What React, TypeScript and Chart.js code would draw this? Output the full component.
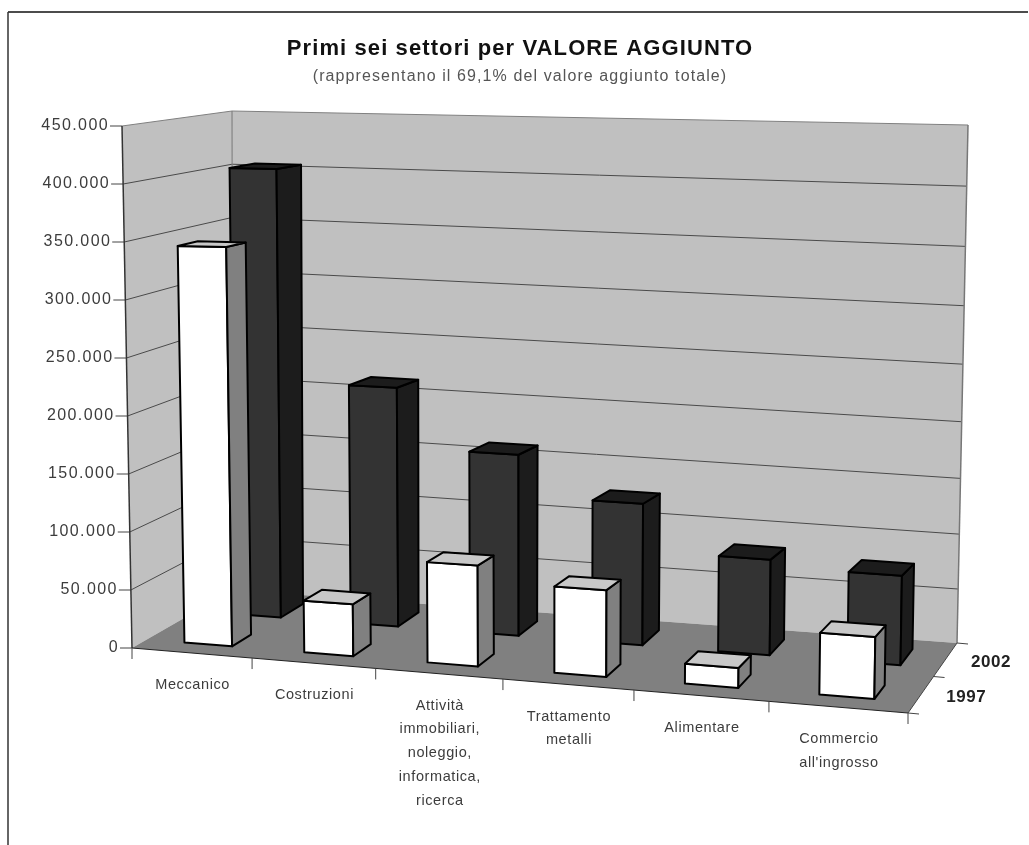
import React, { useEffect, useRef } from "react";
import { Chart, registerables } from "chart.js";

Chart.register(...registerables);

const titleText = "Primi sei settori per VALORE AGGIUNTO";
const subtitleText = "(rappresentano il 69,1% del valore aggiunto totale)";
const categories: (string | string[])[] = [
  "Meccanico",
  "Costruzioni",
  ["Attività", "immobiliari,", "noleggio,", "informatica,", "ricerca"],
  ["Trattamento", "metalli"],
  "Alimentare",
  ["Commercio", "all'ingrosso"],
];
const series1997 = [344000, 44000, 84000, 71000, 16000, 49000];
const series2002 = [404000, 213000, 160000, 124000, 83000, 77000];
const yMax = 450000;
const yStep = 50000;

type Pt = [number, number];
// projection of the plot box: floor & ceiling quads [front-left, front-right, back-right, back-left]
const FLOOR: Pt[] = [[132, 648], [908, 713], [957, 643], [233, 590]];
const CEIL: Pt[] = [[122, 126], [918, 123], [968, 125], [232, 111]];
const ROW_DEPTH: Record<string, [number, number]> = { "1997": [0.14, 0.33], "2002": [0.62, 0.86] };
const ROW_SHIFT: Record<string, number> = { "1997": 0.003, "2002": 0.006 };

function homography(q: Pt[]) {
  const [[x0, y0], [x1, y1], [x2, y2], [x3, y3]] = q;
  const dx1 = x1 - x2, dx2 = x3 - x2, sx = x0 - x1 + x2 - x3;
  const dy1 = y1 - y2, dy2 = y3 - y2, sy = y0 - y1 + y2 - y3;
  const den = dx1 * dy2 - dx2 * dy1;
  const g = (sx * dy2 - dx2 * sy) / den;
  const h = (dx1 * sy - sx * dy1) / den;
  const a = x1 - x0 + g * x1, b = x3 - x0 + h * x3;
  const d = y1 - y0 + g * y1, e = y3 - y0 + h * y3;
  return (u: number, v: number): Pt => {
    const w = g * u + h * v + 1;
    return [(a * u + b * v + x0) / w, (d * u + e * v + y0) / w];
  };
}
const rawFloor = homography(FLOOR);
const floorAt = (u: number, v: number): Pt => rawFloor(u + 0.03 * u * (1 - u), v);
const ceilAt = (u: number, v: number): Pt => {
  // the ceiling quad is almost edge-on, so reuse the floor's foreshortening across a bilinear patch
  const s = (floorAt(u, 0)[0] - FLOOR[0][0]) / (FLOOR[1][0] - FLOOR[0][0]);
  const [a, b, c, d] = CEIL;
  const fx = a[0] + (b[0] - a[0]) * s, fy = a[1] + (b[1] - a[1]) * s;
  const bx = d[0] + (c[0] - d[0]) * s, by = d[1] + (c[1] - d[1]) * s;
  return [fx + (bx - fx) * v, fy + (by - fy) * v];
};
const project = (u: number, v: number, h: number): Pt => {
  const f = floorAt(u, v), c = ceilAt(u, v);
  const t = h - 0.07 * h * (1 - h) * u * v;
  return [f[0] + (c[0] - f[0]) * t, f[1] + (c[1] - f[1]) * t];
};

function poly(ctx: CanvasRenderingContext2D, pts: Pt[], fill?: string, stroke?: string, lw = 1) {
  ctx.beginPath();
  pts.forEach((p, i) => (i ? ctx.lineTo(p[0], p[1]) : ctx.moveTo(p[0], p[1])));
  ctx.closePath();
  if (fill) { ctx.fillStyle = fill; ctx.fill(); }
  if (stroke) { ctx.strokeStyle = stroke; ctx.lineWidth = lw; ctx.stroke(); }
}
function seg(ctx: CanvasRenderingContext2D, a: Pt, b: Pt, color: string, lw = 1) {
  ctx.beginPath();
  ctx.moveTo(a[0], a[1]);
  ctx.lineTo(b[0], b[1]);
  ctx.strokeStyle = color;
  ctx.lineWidth = lw;
  ctx.stroke();
}

const TEXT = "#3c3c3c";
const FONT = '"Liberation Sans", Arial, sans-serif';

const box3d = {
  id: "box3d",
  beforeDraw(chart: any) {
    chart.ctx.letterSpacing = "1.1px";
  },
  beforeDatasetsDraw(chart: any) {
    const { ctx, scales: { x, y } } = chart;
    ctx.letterSpacing = "0px";
    ctx.save();
    ctx.lineJoin = "round";
    // page frame
    seg(ctx, [8, 12], [1028, 12], "#111", 1.5);
    seg(ctx, [8, 12], [8, 845], "#333", 1.5);
    // walls & floor
    poly(ctx, [project(0, 0, 0), project(0, 1, 0), project(0, 1, 1), project(0, 0, 1)], "#c0c0c0");
    poly(ctx, [project(0, 1, 0), project(1, 1, 0), project(1, 1, 1), project(0, 1, 1)], "#c0c0c0");
    poly(ctx, [project(0, 0, 0), project(1, 0, 0), project(1, 1, 0), project(0, 1, 0)], "#808080");
    // gridlines and value axis
    const hOf = (val: number) => (y.bottom - y.getPixelForValue(val)) / (y.bottom - y.top);
    y.ticks.forEach((t: any) => {
      const h = hOf(t.value);
      const a = project(0, 0, h), b = project(0, 1, h), c = project(1, 1, h);
      if (t.value > 0 && t.value < yMax) {
        seg(ctx, a, b, "#4a4a4a", 1);
        seg(ctx, b, c, "#4a4a4a", 1);
      } else if (t.value === yMax) {
        seg(ctx, a, b, "#808080", 1);
        seg(ctx, b, c, "#808080", 1);
      }
      seg(ctx, [a[0] - 12, a[1]], a, "#444", 1);
      ctx.fillStyle = TEXT;
      ctx.font = `16px ${FONT}`;
      ctx.letterSpacing = "1.4px";
      ctx.textAlign = "right";
      ctx.textBaseline = "middle";
      ctx.fillText(t.label, a[0] - 13, a[1]);
      ctx.letterSpacing = "0px";
    });
    // box edges
    seg(ctx, project(0, 1, 0), project(0, 1, 1), "#777", 1);
    seg(ctx, project(1, 1, 0), project(1, 1, 1), "#777", 1.5);
    seg(ctx, project(0, 0, 0), project(0, 0, 1), "#333", 1.5);
    seg(ctx, project(0, 0, 0), project(1, 0, 0), "#222", 1.2);
    seg(ctx, project(1, 0, 0), project(1, 1, 0), "#444", 1);
    // category ticks + labels
    const n = categories.length;
    for (let i = 0; i <= n; i++) {
      const p = project(i / n, 0, 0);
      seg(ctx, p, [p[0], p[1] + 11], "#444", 1);
    }
    categories.forEach((c, i) => {
      const u = (x.getPixelForValue(i) - x.left) / (x.right - x.left);
      const p = project(u, 0, 0);
      const lines = Array.isArray(c) ? c : [c];
      ctx.fillStyle = TEXT;
      ctx.font = `14.5px ${FONT}`;
      ctx.letterSpacing = "0.6px";
      ctx.textAlign = "center";
      ctx.textBaseline = "middle";
      lines.forEach((l, k) => ctx.fillText(l, p[0] + 1, p[1] + 32 + k * 23.7));
      ctx.letterSpacing = "0px";
    });
    // depth axis
    [0, 0.5, 1].forEach((v) => {
      const p = project(1, v, 0);
      seg(ctx, p, [p[0] + 11, p[1] + 1], "#444", 1);
    });
    chart.data.datasets.forEach((ds: any) => {
      const [v0, v1] = ROW_DEPTH[ds.label];
      const p = project(1, (v0 + v1) / 2, 0);
      ctx.fillStyle = "#222";
      ctx.font = `bold 17px ${FONT}`;
      ctx.letterSpacing = "0.6px";
      ctx.textAlign = "center";
      ctx.textBaseline = "middle";
      ctx.fillText(ds.label, p[0] + 46, p[1] + 2);
      ctx.letterSpacing = "0px";
    });
    ctx.restore();
  },
  afterDatasetsDraw(chart: any) {
    const { ctx, scales: { x, y } } = chart;
    ctx.save();
    ctx.lineJoin = "round";
    const order = [...chart.data.datasets.keys()].sort(
      (a: number, b: number) =>
        ROW_DEPTH[chart.data.datasets[b].label][0] - ROW_DEPTH[chart.data.datasets[a].label][0]
    );
    order.forEach((di: number) => {
      const ds = chart.data.datasets[di];
      const [v0, v1] = ROW_DEPTH[ds.label];
      const shift = ROW_SHIFT[ds.label];
      const { front, side, top } = ds.faces;
      chart.getDatasetMeta(di).data.forEach((el: any) => {
        const uc = (el.x - x.left) / (x.right - x.left);
        const half = el.width / 2 / (x.right - x.left);
        const s = shift * (1 - 0.8 * uc);
        const u0 = uc - half + s;
        const u1 = uc + half + s;
        const h = (y.bottom - el.y) / (y.bottom - y.top);
        poly(ctx, [project(u0, v0, 0), project(u1, v0, 0), project(u1, v0, h), project(u0, v0, h)], front, "#000", 2);
        poly(ctx, [project(u1, v0, 0), project(u1, v1, 0), project(u1, v1, h), project(u1, v0, h)], side, "#000", 2);
        poly(ctx, [project(u0, v0, h), project(u1, v0, h), project(u1, v1, h), project(u0, v1, h)], top, "#000", 2);
      });
    });
    ctx.restore();
  },
};

export default function App() {
  const ref = useRef<HTMLCanvasElement>(null);
  useEffect(() => {
    const chart = new Chart(ref.current!, {
      type: "bar",
      data: {
        labels: categories as any,
        datasets: [
          {
            label: "2002",
            data: series2002,
            backgroundColor: "rgba(0,0,0,0)",
            faces: { front: "#333333", side: "#1c1c1c", top: "#1c1c1c" },
          } as any,
          {
            label: "1997",
            data: series1997,
            backgroundColor: "rgba(0,0,0,0)",
            faces: { front: "#ffffff", side: "#808080", top: "#c8c8c8" },
          } as any,
        ],
      },
      options: {
        responsive: false,
        animation: false,
        layout: { padding: { left: 132, right: 121, top: 0, bottom: 197 } },
        datasets: { bar: { grouped: false, barPercentage: 0.4, categoryPercentage: 1 } },
        plugins: {
          legend: { display: false },
          tooltip: { enabled: false },
          title: {
            display: true,
            text: titleText,
            color: "#111",
            font: { family: FONT, size: 22, weight: "bold", lineHeight: 1.2 },
            padding: { top: 35.5, bottom: 0 },
          },
          subtitle: {
            display: true,
            text: subtitleText,
            color: "#555",
            font: { family: FONT, size: 16, weight: "normal", lineHeight: 1.2 },
            padding: { top: 5.5, bottom: 40 },
          },
        },
        scales: {
          x: { display: false, type: "category" },
          y: {
            display: false,
            min: 0,
            max: yMax,
            ticks: {
              stepSize: yStep,
              autoSkip: false,
              callback: (v: any) => String(v).replace(/\B(?=(\d{3})+$)/g, "."),
            },
          },
        },
      } as any,
      plugins: [box3d],
    });
    return () => chart.destroy();
  }, []);
  return (
    <div style={{ position: "absolute", left: 0, top: 0, width: 1029, height: 845, background: "#fff" }}>
      <canvas ref={ref} width={1029} height={845} style={{ display: "block" }} />
    </div>
  );
}
